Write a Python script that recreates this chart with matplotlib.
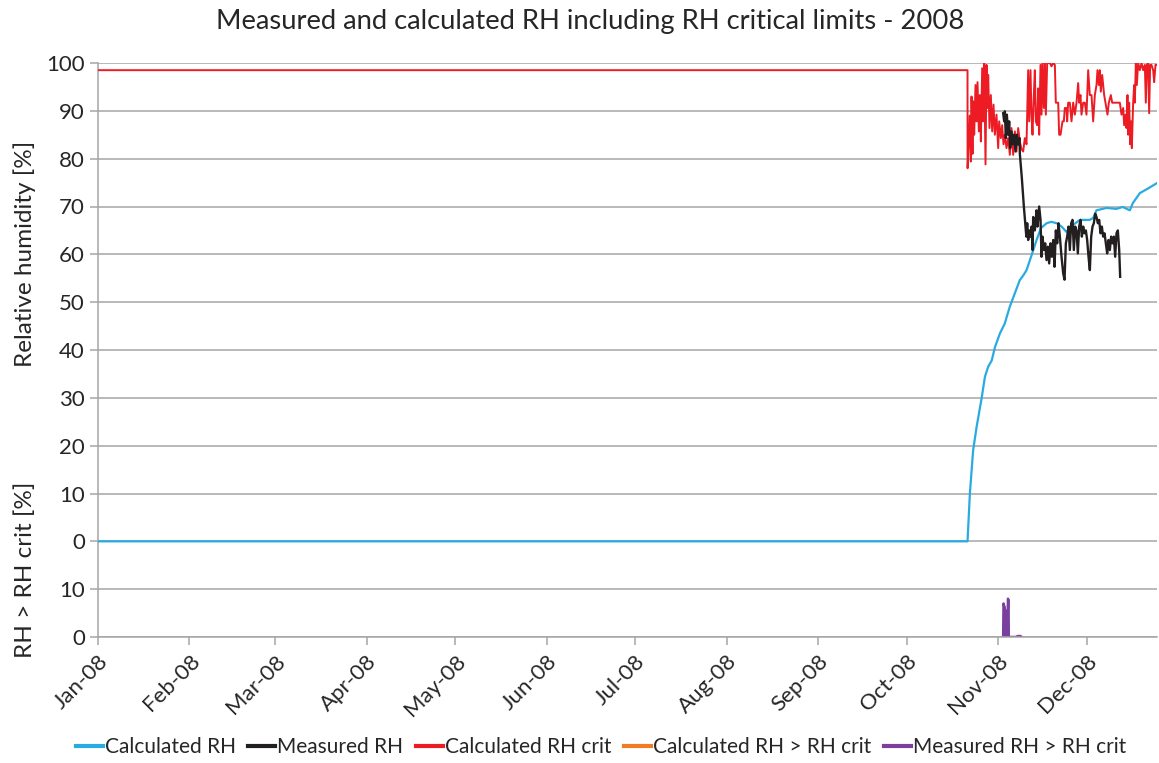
import numpy as np
import matplotlib
matplotlib.use("Agg")
import matplotlib.pyplot as plt
import matplotlib.dates as mdates
from datetime import datetime

plt.rcParams['font.family'] = ['Lato', 'DejaVu Sans']

# ---------------- data (days since 2008-01-01, values in %) ----------------
calc_rh_days = [0, 294.6, 295.4, 296.5, 297.7, 299.4, 300.5, 301.6, 302.8, 303.9, 305.6,
                307.2, 308.9, 310.6, 312.3, 313.5, 314.6, 316.3, 318.0, 319.5, 321.4,
                323.0, 324.8, 326.5, 328.1, 330.0, 332.7, 336.0, 337.2, 338.3, 341.7,
                345.0, 347.2, 349.6, 350.6, 353.0, 356.4, 358.8]
calc_rh_vals = [0, 0, 10, 19, 24, 30, 34.4, 36.5, 37.8, 40.6, 43.5,
                45.5, 49, 51.8, 54.6, 55.6, 56.7, 59.8, 63, 65.5, 66.5,
                66.8, 66.5, 65.8, 64.7, 66.0, 67.2, 67.2, 67.6, 69.2, 69.7,
                69.5, 69.9, 69.2, 70.7, 72.8, 74, 74.9]

meas_rh_days = [306.68, 307.02, 307.25, 307.59, 307.93, 308.38, 308.72, 309.05, 309.51,
                309.96, 310.41, 310.86, 311.31, 311.77, 312.22, 312.33, 313.0, 313.69,
                314.53, 314.82, 315.16, 315.5, 315.95, 316.29, 316.63, 316.85, 317.42,
                317.98, 318.32, 318.88, 319.34, 319.67, 320.01, 320.47, 320.92, 321.37,
                321.82, 322.27, 322.72, 323.17, 323.63, 324.08, 324.53, 324.98, 325.43,
                325.89, 326.45, 327.02, 327.47, 327.92, 328.37, 328.82, 329.27, 329.72,
                330.18, 330.63, 331.08, 331.53, 331.98, 332.43, 332.89, 333.34, 333.79,
                334.24, 334.69, 335.14, 335.6, 336.05, 336.5, 336.95, 337.4, 337.85,
                338.31, 338.76, 339.21, 339.66, 340.11, 340.56, 341.02, 341.47, 341.92,
                342.37, 342.82, 343.27, 343.73, 344.18, 344.63, 345.08, 345.53, 345.99,
                346.32]
meas_rh_vals = [89.5, 87.8, 89.9, 84.3, 89.2, 85, 87.8, 82.2, 85.7,
                83, 85, 81.5, 85, 83, 84.3, 81, 76, 70,
                63.7, 66.5, 63, 65, 63.7, 65.8, 60.9, 67.8, 65,
                69.2, 65.8, 70, 67.2, 59.5, 63.7, 60.9, 62.3, 58.8,
                61.6, 58.1, 62.3, 59.5, 63, 57.4, 65, 62.3, 66.5,
                63.7, 59.5, 56, 54.7, 62.3, 63.7, 65.8, 60.9, 66.5,
                67.2, 60.9, 65.8, 65, 60.2, 65.8, 67.2, 63.7, 65.8,
                64.4, 65, 63, 59.5, 56.7, 63.7, 65.8, 66.5, 68.5,
                67.8, 66.5, 67.2, 64.4, 65.8, 63.7, 64.4, 62.3, 60.2,
                63, 60.9, 63.7, 62.3, 63.7, 59.5, 64.4, 65, 60.9,
                55.3]

crit_days = [0, 294.6, 294.62, 295.05, 295.39, 295.73, 295.96, 296.3, 296.52, 296.86,
             297.31, 297.65, 297.99, 298.44, 298.78, 299.12, 299.57, 299.91, 300.25,
             300.7, 301.04, 301.38, 301.6, 302.05, 302.5, 302.96, 303.41, 303.86,
             304.42, 304.99, 305.33, 305.89, 306.34, 306.8, 307.25, 307.81, 308.38,
             308.94, 309.51, 310.07, 310.64, 311.2, 311.77,
             312.33, 312.89, 313.46, 314.02, 314.59, 315.15, 315.49, 315.94, 316.28,
             316.62, 317.07, 317.41, 317.75, 318.2, 318.54, 318.88, 319.33, 319.67,
             320.01, 320.46, 320.8, 321.14, 321.59, 322.49, 323.06, 323.62, 324.19,
             324.52, 325.32, 325.65, 326.11, 326.78, 327.24, 327.57, 328.14, 328.36,
             328.7, 329.27, 329.83, 330.4, 330.96, 331.53, 332.09, 332.43, 332.88,
             333.22, 333.79,
             334.35, 334.91, 335.48, 336.04, 336.61, 337.17, 337.74, 338.3, 338.64,
             339.09, 339.43, 339.77, 340.22, 340.9, 341.35, 342.03, 342.48, 343.16,
             343.61, 344.51, 345.64, 346.21, 346.77, 347.34, 347.67, 348.13, 348.46,
             348.8, 349.03, 349.37, 349.71, 350.05, 350.27, 350.72, 351.06, 351.29,
             351.63, 351.97, 352.42, 352.98, 353.55, 354.11, 354.68, 355.01, 355.35,
             355.8, 356.14, 356.48, 356.93, 357.5, 357.84, 358.29, 358.74]
crit_vals = [98.5, 98.5, 78, 83.6, 89, 79.4, 93, 81, 92, 85,
             95.4, 87.8, 96, 85.7, 93.3, 83.6, 98.9, 87.8, 100,
             78.8, 99.6, 90.6, 97.5, 86.4, 93.3, 85.7, 91.3, 85,
             89.2, 82.2, 87.8, 84.3, 87, 83, 85, 82.2, 84.3,
             80.8, 86.4, 80.8, 85.7, 81.5, 86.4,
             83.6, 82, 81.5, 84.3, 83, 98.5, 87.8, 98.5, 89.2,
             85, 93.3, 98.5, 87.8, 87, 94.7, 85, 99.6, 89.2,
             100, 90.6, 100, 89.2, 100, 100, 99.3, 100, 99.6,
             91.7, 91.7, 85, 85, 87.8, 87.8, 90.6, 90.6, 87.8,
             91.7, 91.7, 87.8, 91.7, 89.2, 91.7, 95.8, 91.7, 93.3,
             89.2, 91.7,
             91.7, 89.2, 98.5, 93.3, 93.3, 87.8, 93.3, 95.4, 98.5,
             95.4, 98.5, 94, 97.5, 93.3, 91.7, 89.2, 91.7, 93.3,
             91.7, 91.7, 91.7, 91.7, 89.2, 90.6, 87, 89.2, 86.4,
             93.3, 85, 91.7, 83, 87.8, 82.2, 91.7, 95.4, 91.7,
             100, 95.4, 100, 98.5, 100, 98.5, 99.6, 91.7, 99.6,
             100, 89.5, 99.6, 99.6, 98.5, 96, 99.6, 99.6]

calc_exceed_days = [294.6, 358.8]
calc_exceed_vals = [0, 0]

meas_exceed_days = [306.68, 306.8, 307.0, 307.2, 307.28, 307.3, 307.45, 307.58, 307.6,
                    307.7, 308.0, 308.08, 308.1, 308.3, 308.5, 308.58, 308.6, 311.0,
                    311.6, 312.5, 313.0]
meas_exceed_vals = [0, 7, 6.5, 6.3, 0, 0, 5.6, 0, 0,
                    3.5, 3.0, 0, 0, 8, 7.7, 0, 0, 0,
                    0.2, 0.2, 0]

ytick_pos = [-20, -10, 0, 10, 20, 30, 40, 50, 60, 70, 80, 90, 100]
ytick_lab = ['0', '10', '0', '10', '20', '30', '40', '50', '60', '70', '80', '90', '100']
exceed_offset = -20  # lower panel baseline on the shared axis

title = 'Measured and calculated RH including RH critical limits - 2008'
series_names = ['Calculated RH', 'Measured RH', 'Calculated RH crit',
                'Calculated RH > RH crit', 'Measured RH > RH crit']
colors = ['#29abe2', '#231f20', '#ed1c24', '#f07b23', '#7b3f9e']

# ---------------- plot ----------------
base = mdates.date2num(datetime(2008, 1, 1))
def xd(d):
    return base + np.asarray(d, dtype=float)

fig = plt.figure(figsize=(11.59, 7.63), dpi=100)
ax = fig.add_axes([98/1159, 1 - 637/763, (1157-98)/1159, (637-63)/763])

l1, = ax.plot(xd(calc_rh_days), calc_rh_vals, color=colors[0], lw=1.6, zorder=3)
l2, = ax.plot(xd(meas_rh_days), meas_rh_vals, color=colors[1], lw=1.7, zorder=4)
l3, = ax.plot(xd(crit_days), crit_vals, color=colors[2], lw=1.4, zorder=3)
l4, = ax.plot(xd(calc_exceed_days), np.array(calc_exceed_vals) + exceed_offset,
              color=colors[3], lw=0.8, zorder=1)
l5, = ax.plot(xd(meas_exceed_days), np.array(meas_exceed_vals) + exceed_offset,
              color=colors[4], lw=1.8, zorder=2)

ax.set_ylim(-20, 100)
ax.set_xlim(xd(0), xd(358.8))
ax.set_yticks(ytick_pos)
ax.set_yticklabels(ytick_lab)
ax.yaxis.grid(True, color='#a6a6a6', lw=1.1)
ax.set_axisbelow(True)
ax.xaxis.set_major_locator(mdates.MonthLocator())
ax.xaxis.set_major_formatter(mdates.DateFormatter('%b-%y'))
for s in ['top', 'right']:
    ax.spines[s].set_visible(False)
for s in ['left', 'bottom']:
    ax.spines[s].set_color('#a6a6a6')
    ax.spines[s].set_linewidth(1.1)
ax.tick_params(axis='both', colors='#a6a6a6', length=6, width=1.1, labelsize=16,
               labelcolor='#262626')
ax.tick_params(axis='x', pad=4)
for lab in ax.get_xticklabels():
    lab.set_rotation(45)
    lab.set_ha('right')
    lab.set_rotation_mode('anchor')

fig.text(590/1159, 1 - 22/763, title, ha='center', va='center', fontsize=19.7, color='#262626')
fig.text(25/1159, 1 - 254/763, 'Relative humidity [%]', rotation=90, ha='center',
         va='center', fontsize=17.5, color='#262626')
fig.text(25/1159, 1 - 570/763, 'RH > RH crit [%]', rotation=90, ha='center',
         va='center', fontsize=17.5, color='#262626')

fig.legend([l1, l2, l3, l4, l5], series_names, loc='center', ncol=5,
           bbox_to_anchor=(601/1159, 1 - 747/763), frameon=False, fontsize=15,
           handlelength=1.3, handletextpad=0.1, columnspacing=0.6,
           labelcolor='#262626')
for h in fig.legends[0].legend_handles:
    h.set_linewidth(3)

fig.savefig('out.png', dpi=100)
